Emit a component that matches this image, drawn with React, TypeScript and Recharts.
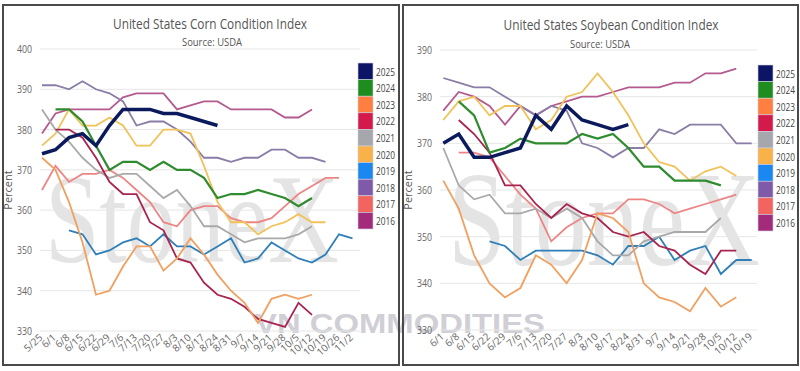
import React from 'react';
import { LineChart, Line, XAxis, YAxis, CartesianGrid } from 'recharts';

const years = ['2025', '2024', '2023', '2022', '2021', '2020', '2019', '2018', '2017', '2016'];

const legendColors: Record<string, string> = {
  '2025': '#0c1466', '2024': '#1e8c1e', '2023': '#ff7f40', '2022': '#d4194b', '2021': '#a6a6ad',
  '2020': '#f9b24a', '2019': '#1a88f0', '2018': '#7e5aa8', '2017': '#f4645f', '2016': '#a42a7c',
};
const lineColors: Record<string, string> = {
  '2025': '#0b1a5c', '2024': '#2e8b2e', '2023': '#f0a060', '2022': '#a8234f', '2021': '#a9a9a9',
  '2020': '#f2c25a', '2019': '#2f7fb8', '2018': '#8a7da6', '2017': '#ee8585', '2016': '#b45a8e',
};

const N = null;

// ---------- Corn ----------
const cornWeeks = ['5/25', '6/1', '6/8', '6/15', '6/22', '6/29', '7/6', '7/13', '7/20', '7/27', '8/3', '8/10', '8/17', '8/24', '8/31', '9/7', '9/14', '9/21', '9/28', '10/5', '10/12', '10/19', '10/26', '11/2'];
const corn2025 = [374, 375, 378, 379, 376, 381, 385, 385, 385, 384, 384, 383, 382, 381, N, N, N, N, N, N, N, N, N, N];
const corn2024 = [N, 385, 385, 382, 376, 370, 372, 372, 370, 372, 370, 370, 368, 363, 364, 364, 365, 364, 363, 361, 363, N, N, N];
const corn2023 = [373, 370, 362, 352, 339, 340, 346, 351, 351, 345, 348, 353, 349, 344, 340, 337, 332, 338, 339, 338, 339, N, N, N];
const corn2022 = [N, 380, 380, 378, 373, 367, 364, 364, 357, 355, 348, 347, 342, 339, 338, 336, 333, 332, 331, 337, 334, N, N, N];
const corn2021 = [385, 380, 377, 373, 370, 368, 369, 369, 366, 363, 365, 361, 356, 356, 354, 352, 353, 353, 353, 354, 356, N, N, N];
const corn2020 = [376, 379, 385, 381, 381, 383, 381, 376, 376, 380, 380, 379, 371, 362, 357, 357, 354, 356, 357, 359, 357, 357, N, N];
const corn2019 = [N, N, 355, 354, 349, 350, 352, 353, 351, 354, 351, 351, 349, 351, 353, 347, 348, 352, 350, 348, 347, 349, 354, 353];
const corn2018 = [391, 391, 390, 392, 390, 389, 387, 381, 382, 382, 380, 377, 373, 373, 372, 373, 373, 375, 375, 373, 373, 372, N, N];
const corn2017 = [365, 371, 367, 369, 369, 370, 368, 365, 362, 357, 356, 360, 361, 361, 358, 357, 357, 358, 361, 364, 366, 368, 368, N];
const corn2016 = [379, 384, 385, 385, 385, 385, 388, 389, 389, 389, 385, 386, 387, 387, 385, 385, 385, 385, 383, 383, 385, N, N, N];
const cornTicks = [330, 340, 350, 360, 370, 380, 390, 400];

// ---------- Soybean ----------
const soyWeeks = ['6/1', '6/8', '6/15', '6/22', '6/29', '7/6', '7/13', '7/20', '7/27', '8/3', '8/10', '8/17', '8/24', '8/31', '9/7', '9/14', '9/21', '9/28', '10/5', '10/12', '10/19'];
const soy2025 = [370, 372, 367, 367, 368, 369, 376, 373, 378, 375, 374, 373, 374, N, N, N, N, N, N, N, N];
const soy2024 = [N, 379, 376, 368, 369, 371, 370, 370, 370, 372, 371, 372, 369, 365, 365, 362, 362, 362, 361, N, N];
const soy2023 = [362, 356, 346, 340, 337, 339, 346, 344, 340, 345, 355, 354, 351, 340, 337, 336, 334, 339, 335, 337, N];
const soy2022 = [N, 375, 372, 368, 361, 361, 357, 354, 357, 355, 354, 351, 350, 351, 348, 347, 344, 342, 347, 347, N];
const soy2021 = [369, 361, 358, 359, 355, 355, 356, 354, 356, 354, 349, 346, 346, 349, 350, 351, 351, 351, 354, N, N];
const soy2020 = [375, 379, 380, 376, 378, 378, 373, 375, 380, 381, 385, 381, 376, 370, 366, 365, 362, 364, 365, 363, N];
const soy2019 = [N, N, N, 349, 348, 345, 347, 347, 347, 347, 346, 344, 348, 348, 350, 345, 347, 348, 342, 345, 345];
const soy2018 = [384, 383, 382, 382, 380, 378, 376, 378, 377, 370, 369, 367, 369, 369, 373, 372, 374, 374, 374, 370, 370];
const soy2017 = [N, 368, 368, 367, 363, 359, 356, 349, 352, 354, 355, 355, 358, 358, 357, 355, 356, 357, 358, 359, N];
const soy2016 = [377, 381, 380, 378, 374, 378, 376, 378, 379, 380, 380, 381, 382, 382, 382, 383, 383, 385, 385, 386, N];
const soyTicks = [330, 340, 350, 360, 370, 380, 390];

const cornSeries: Record<string, (number | null)[]> = {
  '2025': corn2025, '2024': corn2024, '2023': corn2023, '2022': corn2022, '2021': corn2021,
  '2020': corn2020, '2019': corn2019, '2018': corn2018, '2017': corn2017, '2016': corn2016,
};
const soySeries: Record<string, (number | null)[]> = {
  '2025': soy2025, '2024': soy2024, '2023': soy2023, '2022': soy2022, '2021': soy2021,
  '2020': soy2020, '2019': soy2019, '2018': soy2018, '2017': soy2017, '2016': soy2016,
};

function buildRows(weeks: string[], series: Record<string, (number | null)[]>) {
  return weeks.map((w, i) => {
    const r: any = { week: w };
    years.forEach((y) => { r['y' + y] = series[y][i]; });
    return r;
  });
}

const FONT = '"Open Sans", "Noto Sans", Arial, sans-serif';
const SERIF = '"Liberation Serif", "DejaVu Serif", serif';

const XTick = (props: any) => {
  const { x, y, payload } = props;
  return (
    <g transform={`translate(${x},${y})`}>
      <text x={0} y={0} dy={2} textAnchor="end" fill="#666" fontSize={10} fontFamily={FONT} transform="rotate(-42)">
        {payload.value}
      </text>
    </g>
  );
};

const YTick = (props: any) => {
  const { x, y, payload } = props;
  return (
    <text x={x} y={y} dy={4} textAnchor="end" fill="#666" fontSize={11} fontFamily={FONT} textLength={15} lengthAdjust="spacingAndGlyphs">
      {payload.value}
    </text>
  );
};

type PanelProps = {
  weeks: string[];
  series: Record<string, (number | null)[]>;
  domain: [number, number];
  ticks: number[];
  left: number;
  margin: { top: number; right: number; bottom: number; left: number };
  padL: number;
  padR: number;
  xAxisHeight: number;
};

const Panel = (p: PanelProps) => {
  const rows = buildRows(p.weeks, p.series);
  const order = [...years].reverse();
  return (
    <div style={{ position: 'absolute', left: p.left, top: 0 }}>
      <LineChart width={400} height={371} data={rows} margin={p.margin}>
        <CartesianGrid vertical={false} stroke="#e6e6e6" strokeWidth={1} />
        <XAxis
          dataKey="week"
          interval={0}
          tick={<XTick />}
          tickLine={false}
          axisLine={false}
          height={p.xAxisHeight}
          padding={{ left: p.padL, right: p.padR }}
          tickSize={4}
        />
        <YAxis
          domain={p.domain}
          ticks={p.ticks}
          width={30}
          tickLine={false}
          axisLine={false}
          tick={<YTick />}
          allowDataOverflow
        />
        {order.map((y) => (
          <Line
            key={y}
            type="linear"
            dataKey={'y' + y}
            stroke={lineColors[y]}
            strokeWidth={y === '2025' ? 3.5 : y === '2024' ? 2.2 : 1.8}
            dot={false}
            activeDot={false}
            isAnimationActive={false}
            connectNulls={false}
          />
        ))}
      </LineChart>
    </div>
  );
};

const Legend = ({ left, top }: { left: number; top: number }) => (
  <g>
    {years.map((y, i) => (
      <g key={y}>
        <rect x={left} y={top + i * 16.6} width={15} height={16.6} fill={legendColors[y]} stroke="#d0d0dc" strokeWidth={0.6} />
        <text x={left + 18} y={top + i * 16.6 + 12.5} fontSize={11} fill="#444" fontFamily={FONT} textLength={19} lengthAdjust="spacingAndGlyphs">{y}</text>
      </g>
    ))}
  </g>
);

const Title = ({ cx, y, text, size, width }: { cx: number; y: number; text: string; size: number; width: number }) => (
  <text x={cx - width / 2} y={y} fontSize={size} fill="#555" fontFamily={FONT} textLength={width} lengthAdjust="spacingAndGlyphs">
    {text}
  </text>
);

const Percent = ({ cx, cy }: { cx: number; cy: number }) => (
  <text x={cx} y={cy} transform={`rotate(-90 ${cx} ${cy})`} textAnchor="middle" dy={4} fontSize={11} fill="#555" fontFamily={FONT}>
    Percent
  </text>
);

export default function App() {
  return (
    <div style={{ position: 'absolute', left: 0, top: 0, width: 800, height: 371, background: '#fff', overflow: 'hidden' }}>
      {/* watermark */}
      <svg width={800} height={371} style={{ position: 'absolute', left: 0, top: 0 }}>
        <g transform="translate(45,262) scale(1,1.3)">
          <text x={0} y={0} fontFamily={SERIF} fontSize={98} fill="#c4c4c4" opacity={0.45}>StoneX</text>
        </g>
        <g transform="translate(448,265) scale(1,1.3)">
          <text x={0} y={0} fontFamily={SERIF} fontSize={104} fill="#c4c4c4" opacity={0.45}>StoneX</text>
        </g>
        <text x={255} y={333} fontFamily='"Liberation Sans", Arial, sans-serif' fontWeight="bold" fontSize={27} fill="#a8a8b4" opacity={0.55} textLength={290} lengthAdjust="spacingAndGlyphs">VN COMMODITIES</text>
      </svg>

      <Panel
        weeks={cornWeeks}
        series={cornSeries}
        domain={[330, 400]}
        ticks={cornTicks}
        left={0}
        margin={{ top: 49, right: 40, bottom: 5, left: 10 }}
        padL={2}
        padR={7.5}
        xAxisHeight={35}
      />
      <Panel
        weeks={soyWeeks}
        series={soySeries}
        domain={[330, 390]}
        ticks={soyTicks}
        left={400}
        margin={{ top: 50, right: 43, bottom: 5, left: 10 }}
        padL={3.3}
        padR={5.3}
        xAxisHeight={36}
      />

      {/* borders */}
      <div style={{ position: 'absolute', left: 2, top: 4, width: 398, height: 362, border: '2px solid #4a4a4a', boxSizing: 'border-box' }} />
      <div style={{ position: 'absolute', left: 402, top: 4, width: 397, height: 362, border: '2px solid #4a4a4a', boxSizing: 'border-box' }} />

      <svg width={800} height={371} style={{ position: 'absolute', left: 0, top: 0, pointerEvents: 'none' }}>
        <Title cx={210} y={29} text="United States Corn Condition Index" size={14} width={194} />
        <Title cx={212} y={46} text="Source: USDA" size={11} width={60} />
        <Title cx={611} y={30} text="United States Soybean Condition Index" size={14} width={215} />
        <Title cx={600} y={48} text="Source: USDA" size={11} width={60} />
        <Percent cx={8} cy={190} />
        <Percent cx={408} cy={190} />
        <Legend left={358} top={63} />
        <Legend left={758} top={65} />
      </svg>
    </div>
  );
}
